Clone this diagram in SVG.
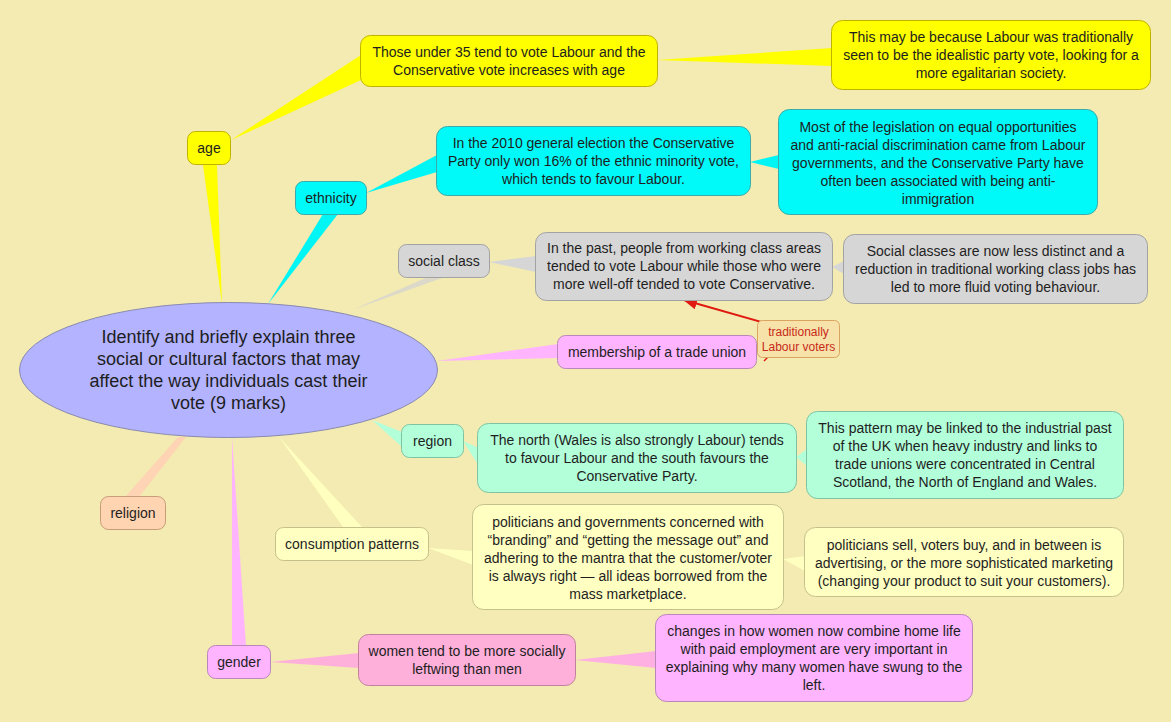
<svg xmlns="http://www.w3.org/2000/svg" width="1171" height="722" viewBox="0 0 1171 722">
<defs>
<marker id="ah" markerWidth="14" markerHeight="12" refX="13" refY="6" orient="auto" markerUnits="userSpaceOnUse">
<path d="M0,0 L14,6 L0,12 z" fill="#E01A10"/>
</marker>
<style>
text{font-family:"Liberation Sans",Arial,Helvetica,sans-serif;font-size:14px;fill:#1E1E1E;text-anchor:middle}
.big{font-size:18px}
.call{font-size:12px;fill:#C8281A}
.n{stroke-width:1}
.y{fill:#FFFF00;stroke:#C2B200}
.c{fill:#00FAFA;stroke:#3BAAAA}
.g{fill:#D6D6D6;stroke:#A2A2A2}
.p{fill:#FFB4FF;stroke:#B987B9}
.m{fill:#B3FFDA;stroke:#7FC4A2}
.o{fill:#FFD4B0;stroke:#C89C78}
.l{fill:#FFFFC2;stroke:#C6C08A}
.w{fill:#FFB0DA;stroke:#C0809E}
</style>
</defs>
<rect x="0" y="0" width="1171" height="722" fill="#F3EBB1"/>
<g id="connectors">
<polygon points="222,304 203,165 217,165" fill="#FFFF00"/>
<polygon points="231,140 361,55 361,80" fill="#FFFF00"/>
<polygon points="657,60 832,48 832,66" fill="#FFFF00"/>
<polygon points="268,304 323,214 338,214" fill="#00F5F5"/>
<polygon points="366,193 437,155 437,172" fill="#00F5F5"/>
<polygon points="750,162 779,155 779,169" fill="#00F5F5"/>
<polygon points="352,310 428,277 445,277" fill="#DCD9CA"/>
<polygon points="489,262 536,256 536,272" fill="#D6D6D6"/>
<polygon points="832,267 844,261 844,274" fill="#D6D6D6"/>
<polygon points="437,361 558,344 558,358" fill="#FFB4FF"/>
<polygon points="372,420 402,432 402,447" fill="#B3FFDA"/>
<polygon points="463,441 479,448 479,466" fill="#B3FFDA"/>
<polygon points="796,457 807,449 807,466" fill="#B3FFDA"/>
<polygon points="178,437 186,437 139,497 125,497" fill="#FFD4B4"/>
<polygon points="279,437 343,527 362,527" fill="#FFFFC0"/>
<polygon points="428,548 473,551 473,565" fill="#FFFFC0"/>
<polygon points="783,559 805,556 805,571" fill="#FFFFC0"/>
<polygon points="232,437 232,646 246,646" fill="#FFB4FF"/>
<polygon points="270,662 359,653 359,668" fill="#FFB0DA"/>
<polygon points="575,660 656,651 656,668" fill="#FFB0E2"/>
<line x1="800" y1="333" x2="684" y2="300" stroke="#E01A10" stroke-width="2" marker-end="url(#ah)"/>
<line x1="764" y1="361" x2="768" y2="357" stroke="#E01A10" stroke-width="1.5"/>
</g>
<g id="central">
<ellipse cx="228.5" cy="370" rx="209" ry="67.5" fill="#B3B3FF" stroke="#8A8AB0"/>
<text class="big" x="228.5" y="343">Identify and briefly explain three</text>
<text class="big" x="228.5" y="365">social or cultural factors that may</text>
<text class="big" x="228.5" y="387">affect the way individuals cast their</text>
<text class="big" x="228.5" y="409">vote (9 marks)</text>
</g>
<g id="age">
<rect class="n y" x="187.5" y="131.5" width="43" height="33" rx="8"/>
<text x="209" y="153">age</text>
</g>
<g id="age-detail">
<rect class="n y" x="360.5" y="35.5" width="297" height="51" rx="10"/>
<text x="509" y="57">Those under 35 tend to vote Labour and the</text>
<text x="509" y="75">Conservative vote increases with age</text>
</g>
<g id="age-reason">
<rect class="n y" x="831.5" y="20.5" width="319" height="69" rx="11"/>
<text x="991" y="42">This may be because Labour was traditionally</text>
<text x="991" y="60">seen to be the idealistic party vote, looking for a</text>
<text x="991" y="78">more egalitarian society.</text>
</g>
<g id="ethnicity">
<rect class="n c" x="295.5" y="181.5" width="71" height="33" rx="8"/>
<text x="331" y="203">ethnicity</text>
</g>
<g id="ethnicity-detail">
<rect class="n c" x="436.5" y="126.5" width="314" height="69" rx="11"/>
<text x="593.5" y="148">In the 2010 general election the Conservative</text>
<text x="593.5" y="166">Party only won 16% of the ethnic minority vote,</text>
<text x="593.5" y="184">which tends to favour Labour.</text>
</g>
<g id="ethnicity-reason">
<rect class="n c" x="778.5" y="109.5" width="319" height="105" rx="11"/>
<text x="938" y="132">Most of the legislation on equal opportunities</text>
<text x="938" y="149.5">and anti-racial discrimination came from Labour</text>
<text x="938" y="167.5">governments, and the Conservative Party have</text>
<text x="938" y="185.5">often been associated with being anti-</text>
<text x="938" y="203.5">immigration</text>
</g>
<g id="social-class">
<rect class="n g" x="398.5" y="244.5" width="91" height="33" rx="8"/>
<text x="444" y="266">social class</text>
</g>
<g id="social-class-detail">
<rect class="n g" x="535.5" y="232.5" width="297" height="68" rx="11"/>
<text x="684" y="253">In the past, people from working class areas</text>
<text x="684" y="271">tended to vote Labour while those who were</text>
<text x="684" y="288.5">more well-off tended to vote Conservative.</text>
</g>
<g id="social-class-reason">
<rect class="n g" x="843.5" y="234.5" width="304" height="69" rx="11"/>
<text x="995.5" y="256">Social classes are now less distinct and a</text>
<text x="995.5" y="274">reduction in traditional working class jobs has</text>
<text x="995.5" y="292">led to more fluid voting behaviour.</text>
</g>
<g id="trade-union">
<rect class="n p" x="557.5" y="335.5" width="199" height="33" rx="8"/>
<text x="657" y="357">membership of a trade union</text>
</g>
<g id="callout">
<rect x="757.5" y="320.5" width="82" height="37" rx="5" fill="#F7E3A9" stroke="#D9A460"/>
<text class="call" x="798.5" y="336">traditionally</text>
<text class="call" x="798.5" y="351">Labour voters</text>
</g>
<g id="region">
<rect class="n m" x="401.5" y="424.5" width="62" height="33" rx="8"/>
<text x="432.5" y="446">region</text>
</g>
<g id="region-detail">
<rect class="n m" x="477.5" y="423.5" width="319" height="69" rx="11"/>
<text x="637" y="445">The north (Wales is also strongly Labour) tends</text>
<text x="637" y="463">to favour Labour and the south favours the</text>
<text x="637" y="481">Conservative Party.</text>
</g>
<g id="region-reason">
<rect class="n m" x="806.5" y="411.5" width="317" height="87" rx="11"/>
<text x="965" y="433">This pattern may be linked to the industrial past</text>
<text x="965" y="451">of the UK when heavy industry and links to</text>
<text x="965" y="469">trade unions were concentrated in Central</text>
<text x="965" y="487">Scotland, the North of England and Wales.</text>
</g>
<g id="religion">
<rect class="n o" x="100.5" y="496.5" width="65" height="33" rx="8"/>
<text x="133" y="518">religion</text>
</g>
<g id="consumption">
<rect class="n l" x="275.5" y="527.5" width="153" height="33" rx="8"/>
<text x="352" y="549">consumption patterns</text>
</g>
<g id="consumption-detail">
<rect class="n l" x="472.5" y="504.5" width="311" height="105" rx="11"/>
<text x="628" y="526.5">politicians and governments concerned with</text>
<text x="628" y="544.5">“branding” and “getting the message out” and</text>
<text x="628" y="562.5">adhering to the mantra that the customer/voter</text>
<text x="628" y="580.5">is always right — all ideas borrowed from the</text>
<text x="628" y="598.5">mass marketplace.</text>
</g>
<g id="consumption-reason">
<rect class="n l" x="804.5" y="527.5" width="319" height="69" rx="11"/>
<text x="964" y="549.5">politicians sell, voters buy, and in between is</text>
<text x="964" y="567.5">advertising, or the more sophisticated marketing</text>
<text x="964" y="585.5">(changing your product to suit your customers).</text>
</g>
<g id="gender">
<rect class="n p" x="207.5" y="645.5" width="63" height="33" rx="8"/>
<text x="239" y="667">gender</text>
</g>
<g id="gender-detail">
<rect class="n w" x="358.5" y="634.5" width="217" height="51" rx="10"/>
<text x="467" y="656">women tend to be more socially</text>
<text x="467" y="674">leftwing than men</text>
</g>
<g id="gender-reason">
<rect class="n p" x="655.5" y="614.5" width="317" height="87" rx="11"/>
<text x="814" y="636">changes in how women now combine home life</text>
<text x="814" y="654">with paid employment are very important in</text>
<text x="814" y="672">explaining why many women have swung to the</text>
<text x="814" y="690">left.</text>
</g>
</svg>
